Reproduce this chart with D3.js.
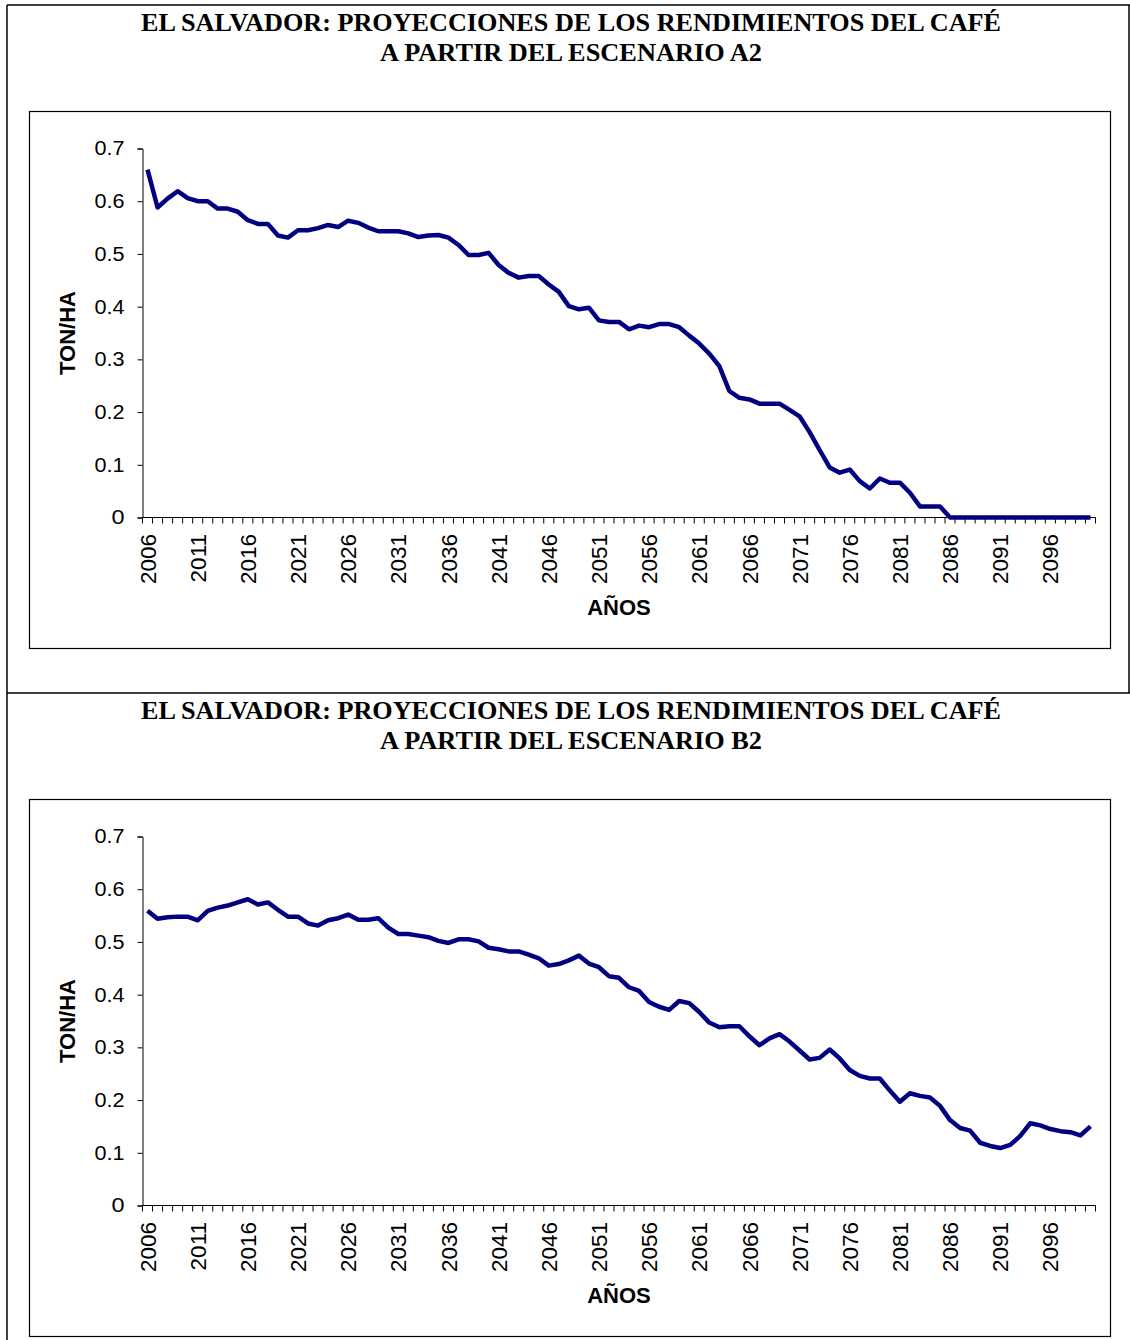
<!DOCTYPE html>
<html>
<head>
<meta charset="utf-8">
<script src="https://cdn.jsdelivr.net/npm/d3@7"></script>
<style>
  body { margin: 0; background: #fff; }
  svg { display: block; }
</style>
</head>
<body>
<div id="chart-area"></div>
<script>
const years = d3.range(2006, 2101);
const yTicks = [0, 0.1, 0.2, 0.3, 0.4, 0.5, 0.6, 0.7];
const titleLine1 = "EL SALVADOR: PROYECCIONES DE LOS RENDIMIENTOS DEL CAFÉ";

const a2Values = [
    0.660, 0.588, 0.605, 0.619, 0.606, 0.600, 0.600, 0.586, 0.586, 0.580,
    0.564, 0.557, 0.557, 0.535, 0.531, 0.545, 0.545, 0.549, 0.555, 0.551,
    0.563, 0.559, 0.550, 0.543, 0.543, 0.543, 0.539, 0.532, 0.535, 0.536,
    0.531, 0.517, 0.498, 0.498, 0.502, 0.479, 0.464, 0.455, 0.458, 0.458,
    0.442, 0.428, 0.401, 0.395, 0.398, 0.374, 0.371, 0.371, 0.357, 0.364,
    0.361, 0.367, 0.367, 0.361, 0.345, 0.330, 0.311, 0.287, 0.240, 0.227,
    0.224, 0.216, 0.216, 0.216, 0.204, 0.192, 0.162, 0.128, 0.095, 0.085,
    0.091, 0.069, 0.055, 0.074, 0.066, 0.066, 0.047, 0.021, 0.021, 0.021,
    0, 0, 0, 0, 0, 0, 0, 0, 0, 0, 0, 0, 0, 0, 0
];

const b2Values = [
    0.559, 0.544, 0.547, 0.548, 0.548, 0.541, 0.559, 0.565, 0.569, 0.575,
    0.581, 0.571, 0.575, 0.561, 0.548, 0.548, 0.535, 0.531, 0.541, 0.545,
    0.552, 0.542, 0.542, 0.545, 0.527, 0.515, 0.515, 0.512, 0.509, 0.502,
    0.498, 0.505, 0.505, 0.501, 0.489, 0.486, 0.482, 0.482, 0.476, 0.469,
    0.455, 0.458, 0.465, 0.474, 0.459, 0.452, 0.435, 0.432, 0.414, 0.407,
    0.386, 0.377, 0.371, 0.388, 0.384, 0.367, 0.347, 0.338, 0.340, 0.340,
    0.321, 0.304, 0.317, 0.325, 0.311, 0.294, 0.277, 0.280, 0.296, 0.279,
    0.257, 0.246, 0.241, 0.241, 0.218, 0.197, 0.213, 0.208, 0.205, 0.189,
    0.162, 0.147, 0.142, 0.119, 0.113, 0.109, 0.115, 0.132, 0.156, 0.152,
    0.145, 0.141, 0.139, 0.133, 0.150
];

const svgWidth = 1130;
const svgHeight = 1340;

const svg = d3.select("#chart-area")
    .append("svg")
    .attr("width", svgWidth)
    .attr("height", svgHeight);

// marco exterior (tabla)
const frame = svg.append("g")
    .attr("stroke", "black")
    .attr("stroke-width", 1.5);
frame.append("line").attr("x1", 7).attr("y1", 5).attr("x2", 1130).attr("y2", 5);
frame.append("line").attr("x1", 7).attr("y1", 5).attr("x2", 7).attr("y2", 1340);
frame.append("line").attr("x1", 1129).attr("y1", 5).attr("x2", 1129).attr("y2", 693);
frame.append("line").attr("x1", 7).attr("y1", 693).attr("x2", 1130).attr("y2", 693);

function drawPanel(offsetY, title2, values) {
    const g = svg.append("g").attr("transform", `translate(0,${offsetY})`);

    g.append("text")
        .attr("x", 571)
        .attr("y", 31)
        .attr("text-anchor", "middle")
        .attr("textLength", 860)
        .attr("lengthAdjust", "spacingAndGlyphs")
        .style("font-family", "'Liberation Serif', 'Times New Roman', serif")
        .style("font-weight", "bold")
        .style("font-size", "26px")
        .text(titleLine1);

    g.append("text")
        .attr("x", 571)
        .attr("y", 61)
        .attr("text-anchor", "middle")
        .attr("textLength", 382)
        .attr("lengthAdjust", "spacingAndGlyphs")
        .style("font-family", "'Liberation Serif', 'Times New Roman', serif")
        .style("font-weight", "bold")
        .style("font-size", "26px")
        .text(title2);

    // area del grafico
    g.append("rect")
        .attr("x", 29.5)
        .attr("y", 111.5)
        .attr("width", 1081)
        .attr("height", 537)
        .attr("fill", "white")
        .attr("stroke", "black")
        .attr("stroke-width", 1.2);

    const xScale = d3.scaleBand()
        .domain(years)
        .range([142.5, 1095.5]);

    const yScale = d3.scaleLinear()
        .domain([0, 0.7])
        .range([517.5, 148.5]);

    const yAxis = d3.axisLeft(yScale)
        .tickValues(yTicks)
        .tickSize(5)
        .tickPadding(13)
        .tickFormat(d => d === 0 ? "0" : d3.format(".1f")(d));

    const yAxisGroup = g.append("g")
        .attr("transform", "translate(142.5,0)")
        .call(yAxis);
    yAxisGroup.select(".domain").attr("stroke", "black");
    yAxisGroup.selectAll("text")
        .style("font-family", "Arial, 'Liberation Sans', sans-serif")
        .style("font-size", "20px")
        .attr("textLength", d => d === 0 ? 13 : 30)
        .attr("lengthAdjust", "spacingAndGlyphs")
        .attr("fill", "black");

    // eje X con marcas entre categorias
    const xAxisGroup = g.append("g").attr("class", "x-axis");
    xAxisGroup.append("line")
        .attr("x1", xScale.range()[0])
        .attr("x2", xScale.range()[1])
        .attr("y1", yScale(0))
        .attr("y2", yScale(0))
        .attr("stroke", "black");

    const boundaries = years.map(d => xScale(d)).concat([xScale.range()[1]]);
    xAxisGroup.selectAll(".tick-mark")
        .data(boundaries)
        .join("line")
        .attr("class", "tick-mark")
        .attr("x1", d => d)
        .attr("x2", d => d)
        .attr("y1", yScale(0))
        .attr("y2", yScale(0) + 6)
        .attr("stroke", "black");

    const labelYears = years.filter((d, i) => i % 5 === 0 && d < 2100);
    xAxisGroup.selectAll(".x-label")
        .data(labelYears)
        .join("text")
        .attr("class", "x-label")
        .attr("transform", d => `translate(${xScale(d) + xScale.bandwidth() / 2},534) rotate(-90)`)
        .attr("dy", "0.36em")
        .attr("text-anchor", "end")
        .style("font-family", "Arial, 'Liberation Sans', sans-serif")
        .style("font-size", "22.5px")
        .text(d => d);

    g.append("text")
        .attr("transform", "rotate(-90)")
        .attr("x", -333)
        .attr("y", 75)
        .attr("text-anchor", "middle")
        .style("font-family", "Arial, 'Liberation Sans', sans-serif")
        .style("font-weight", "bold")
        .style("font-size", "22px")
        .text("TON/HA");

    g.append("text")
        .attr("x", 619)
        .attr("y", 615)
        .attr("text-anchor", "middle")
        .style("font-family", "Arial, 'Liberation Sans', sans-serif")
        .style("font-weight", "bold")
        .style("font-size", "22px")
        .text("AÑOS");

    const line = d3.line()
        .x((d, i) => xScale(years[i]) + xScale.bandwidth() / 2)
        .y(d => yScale(d));

    g.append("path")
        .datum(values)
        .attr("fill", "none")
        .attr("stroke", "#000080")
        .attr("stroke-width", 4.5)
        .attr("stroke-linejoin", "round")
        .attr("d", line);
}

drawPanel(0, "A PARTIR DEL ESCENARIO A2", a2Values);
drawPanel(688, "A PARTIR DEL ESCENARIO B2", b2Values);
</script>
</body>
</html>
